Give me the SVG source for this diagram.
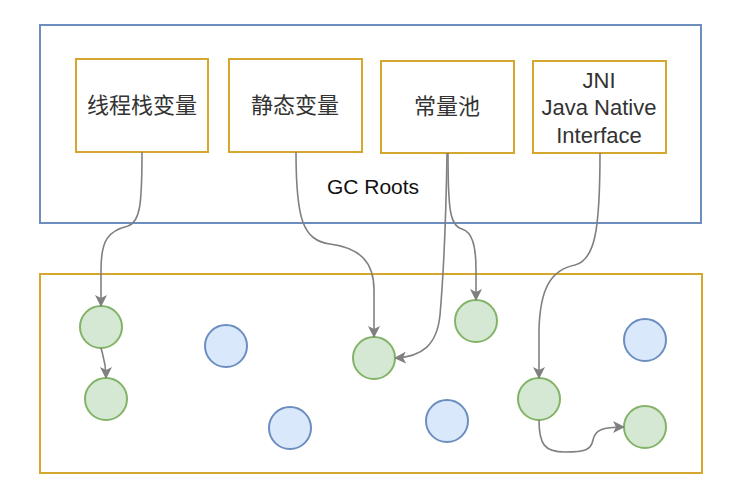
<svg xmlns="http://www.w3.org/2000/svg" width="732" height="504" viewBox="0 0 732 504">
<style>
.frame-blue{fill:none;stroke:#6c8ebf;stroke-width:2}
.frame-gold{fill:none;stroke:#d6a72e;stroke-width:2}
.box{fill:#ffffff;stroke:#d6a72e;stroke-width:2}
.live{fill:#d5e8d4;stroke:#82b366;stroke-width:2}
.dead{fill:#dae8fc;stroke:#6c8ebf;stroke-width:2}
.lbl{font-family:"Liberation Sans","Noto Sans CJK SC",sans-serif;font-size:22px;fill:#333333;text-anchor:middle}
.title{font-family:"Liberation Sans",Arial,sans-serif;font-size:21px;fill:#111111;text-anchor:middle}
.edge{fill:none;stroke:#808080;stroke-width:1.6}
</style>
<defs>
<marker id="arr" viewBox="0 0 12 12" refX="11" refY="6" markerWidth="12" markerHeight="12" markerUnits="userSpaceOnUse" orient="auto">
<path d="M0,0 L12,6 L0,12 L3,6 Z" fill="#808080"/>
</marker>
</defs>

<g id="gc-roots">
<rect class="frame-blue" x="40" y="25" width="661" height="198"/>
<text class="title" x="373" y="194">GC Roots</text>
</g>
<g id="heap">
<rect class="frame-gold" x="40" y="274" width="662" height="199"/>
</g>

<g id="thread-stack">
<rect class="box" x="76" y="59" width="132" height="93"/>
<text class="lbl" x="142" y="113">线程栈变量</text>
</g>
<g id="static-vars">
<rect class="box" x="229" y="59" width="133" height="93"/>
<text class="lbl" x="295" y="113">静态变量</text>
</g>
<g id="constant-pool">
<rect class="box" x="381" y="61" width="133" height="92"/>
<text class="lbl" x="447" y="114">常量池</text>
</g>
<g id="jni">
<rect class="box" x="533" y="61" width="133" height="92"/>
<text class="lbl" x="599" y="88">JNI</text>
<text class="lbl" x="599" y="115">Java Native</text>
<text class="lbl" x="599" y="143">Interface</text>
</g>

<g id="obj-g1"><circle class="live" cx="101" cy="327" r="21"/></g>
<g id="obj-g2"><circle class="live" cx="106" cy="399" r="21"/></g>
<g id="obj-b1"><circle class="dead" cx="226" cy="346" r="21"/></g>
<g id="obj-b2"><circle class="dead" cx="290" cy="428" r="21"/></g>
<g id="obj-g3"><circle class="live" cx="374" cy="358" r="21"/></g>
<g id="obj-g4"><circle class="live" cx="476" cy="321" r="21"/></g>
<g id="obj-b3"><circle class="dead" cx="447" cy="421" r="21"/></g>
<g id="obj-g5"><circle class="live" cx="539" cy="399" r="21"/></g>
<g id="obj-b4"><circle class="dead" cx="645" cy="340" r="21"/></g>
<g id="obj-g6"><circle class="live" cx="645" cy="427" r="21"/></g>

<g id="connectors">
<path class="edge" marker-end="url(#arr)" d="M142,152 C142,205 140,222 128,226 C108,231 101,240 101,270 L101,306"/>
<path class="edge" marker-end="url(#arr)" d="M101,348 C103,356 106,362 106,378"/>
<path class="edge" marker-end="url(#arr)" d="M296,152 C296,220 303,240 330,244 C360,248 374,262 374,290 L374,337"/>
<path class="edge" marker-end="url(#arr)" d="M447,153 C446,220 443,280 440,315 C437,345 422,357 395,358"/>
<path class="edge" marker-end="url(#arr)" d="M448,153 C448,210 450,226 462,229 C472,232 476,245 476,270 L476,300"/>
<path class="edge" marker-end="url(#arr)" d="M600,153 C600,230 595,260 575,265 C550,270 540,290 539,330 L539,378"/>
<path class="edge" marker-end="url(#arr)" d="M539,420 C539,445 545,452 565,452 C585,452 591,450 593,440 C595,430 602,427 624,427"/>
</g>
</svg>
